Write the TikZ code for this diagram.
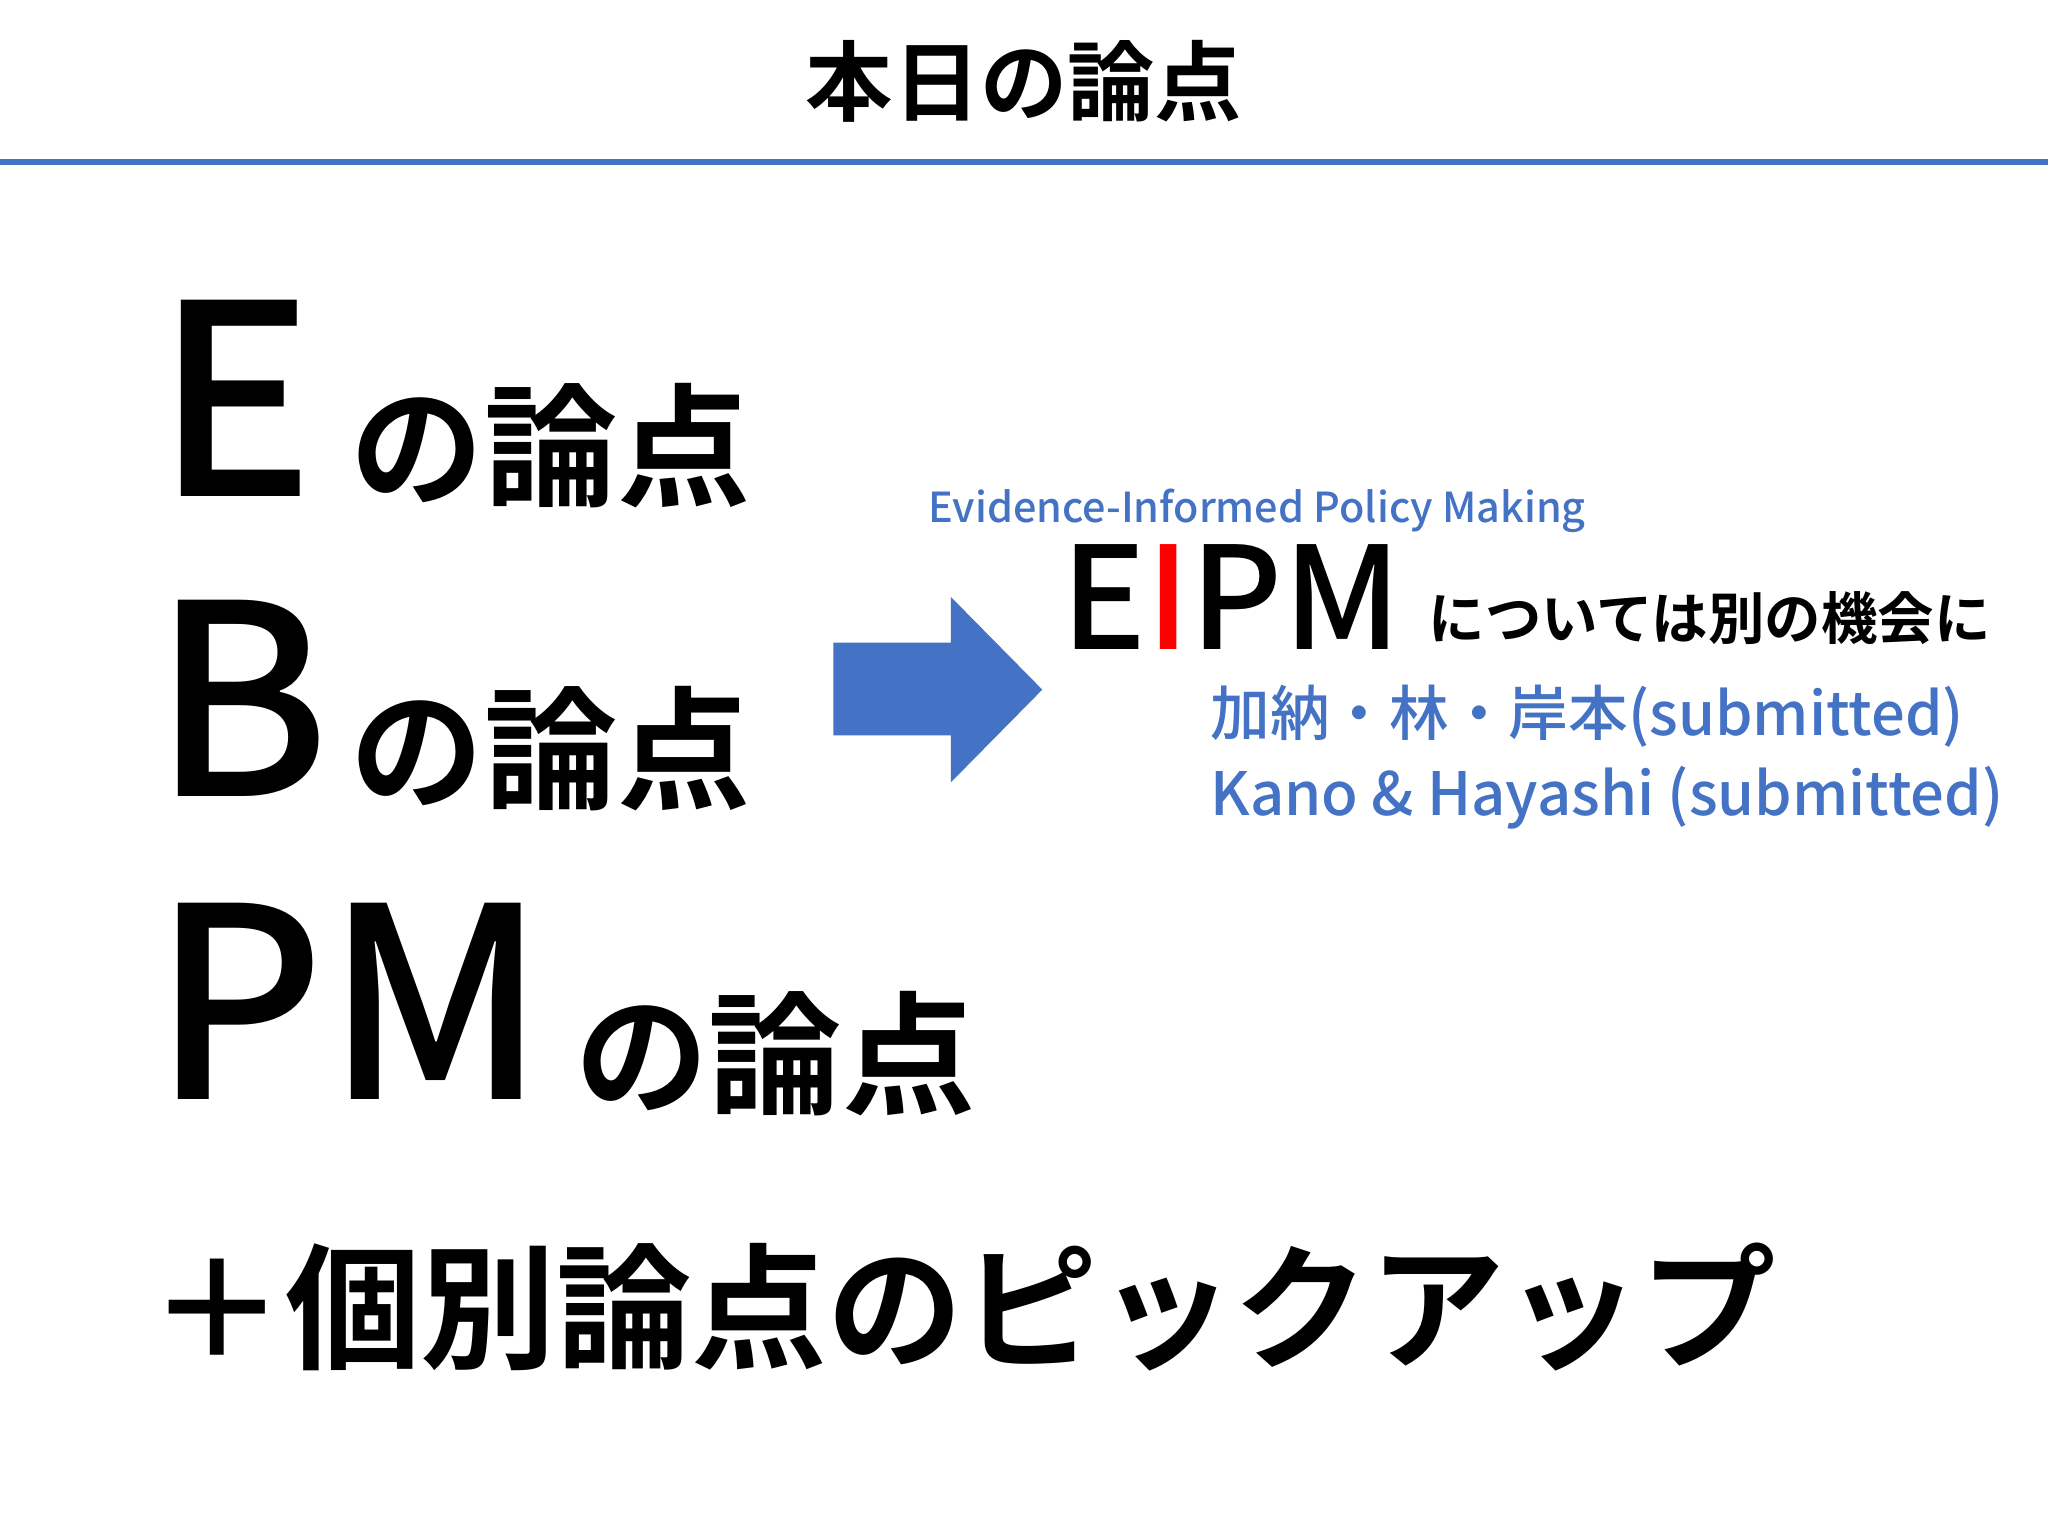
\documentclass[tikz,border=0pt]{standalone}
\usepackage{fontspec}
\setmainfont{Noto Sans CJK JP Medium}
\newfontfamily\jpb{Noto Sans CJK JP Bold}
\definecolor{acc}{HTML}{4472C4}
\begin{document}
\begin{tikzpicture}[x=0.01cm,y=-0.01cm,
 t/.style={anchor=base west,inner sep=0pt}]
\useasboundingbox (0,0) rectangle (1568,1176);
\fill[white] (0,0) rectangle (1568,1176);
\node[anchor=base,inner sep=0pt,font=\jpb\fontsize{19pt}{19pt}\selectfont] (title) at (784,88) {本日の論点};
\draw[acc,line width=1.2pt] (0,124) coordinate (l1) -- (1568,124) coordinate (l2);
\node[t,font=\fontsize{58pt}{58pt}\selectfont] (E) at (118,380) {E};
\node[t,font=\jpb\fontsize{29pt}{29pt}\selectfont] (En) at (268,380) {の論点};
\node[t,font=\fontsize{58pt}{58pt}\selectfont] (B) at (116,610) {B};
\node[t,font=\jpb\fontsize{29pt}{29pt}\selectfont] (Bn) at (268,612) {の論点};
\node[t,font=\fontsize{58pt}{58pt}\selectfont] (PM) at (116,842) {PM};
\node[t,font=\jpb\fontsize{29pt}{29pt}\selectfont] (Pn) at (440,846) {の論点};
\fill[acc] (638,492) -- (728,492) -- (728,457) -- (798,528) -- (728,599) -- (728,563) -- (638,563) -- cycle;
\node[t,font=\fontsize{9pt}{9pt}\selectfont,text=acc] (ev) at (710,400) {Evidence-Informed Policy Making};
\node[t,font=\fontsize{31pt}{31pt}\selectfont] (eipm) at (812,497) {E\textcolor{red}{I}PM};
\node[t,font=\jpb\fontsize{12.3pt}{12.3pt}\selectfont] (sep) at (1093,490) {については別の機会に};
\node[t,font=\fontsize{13pt}{13pt}\selectfont,text=acc] (r1) at (926,563) {加納・林・岸本(submitted)};
\node[t,font=\fontsize{13pt}{13pt}\selectfont,text=acc] (r2) at (926,624) {Kano \& Hayashi (submitted)};
\node[t,font=\jpb\fontsize{29.5pt}{29.5pt}\selectfont] (pick) at (114,1040) {＋個別論点のピックアップ};
\end{tikzpicture}
\end{document}
